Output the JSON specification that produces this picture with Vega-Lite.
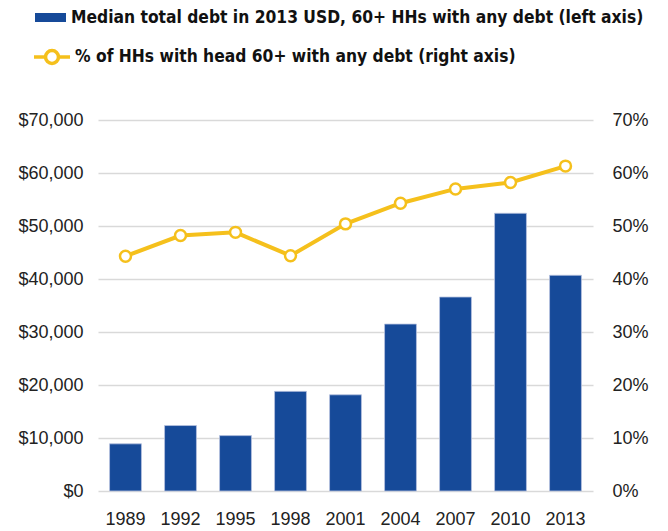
{
  "$schema": "https://vega.github.io/schema/vega-lite/v6.json",
  "width": 495,
  "height": 371,
  "autosize": {"type": "none"},
  "padding": {"left": 98, "top": 120, "right": 75, "bottom": 40},
  "background": "white",
  "config": {
    "view": {"stroke": null},
    "font": "Liberation Sans",
    "axis": {"labelFont": "Liberation Sans", "labelFontSize": 18, "labelColor": "#222222", "grid": false, "domain": false, "ticks": false, "title": null, "labelOverlap": false}
  },
  "data": {
    "values": [
      {"year": "1989", "debt": 8900, "pct": 0.443},
      {"year": "1992", "debt": 12350, "pct": 0.482},
      {"year": "1995", "debt": 10450, "pct": 0.488},
      {"year": "1998", "debt": 18800, "pct": 0.444},
      {"year": "2001", "debt": 18150, "pct": 0.504},
      {"year": "2004", "debt": 31500, "pct": 0.543},
      {"year": "2007", "debt": 36600, "pct": 0.570},
      {"year": "2010", "debt": 52400, "pct": 0.582},
      {"year": "2013", "debt": 40700, "pct": 0.613}
    ]
  },
  "encoding": {
    "x": {
      "field": "year", "type": "ordinal",
      "scale": {"paddingInner": 0.42, "paddingOuter": 0.21},
      "axis": {"labelAngle": 0, "labelPadding": 19}
    }
  },
  "layer": [
    {
      "mark": {"type": "bar", "stroke": "#b7c3e0", "strokeWidth": 0.8},
      "encoding": {
        "y": {
          "field": "debt", "type": "quantitative",
          "scale": {"domain": [0, 70000]},
          "axis": {"orient": "left", "format": "$,.0f", "values": [0,10000,20000,30000,40000,50000,60000,70000], "grid": true, "gridColor": "#d9d9d9", "gridWidth": 1.5, "labelPadding": 15}
        },
        "fill": {
          "datum": "Median total debt in 2013 USD, 60+ HHs with any debt (left axis)",
          "scale": {"range": ["#164a99"]},
          "legend": {
            "orient": "none", "legendX": -63, "legendY": -118, "title": null,
            "symbolType": "M-1,-0.29H1V0.29H-1Z", "symbolSize": 961, "symbolStrokeWidth": 0,
            "labelFont": "DejaVu Sans Condensed", "labelFontSize": 17.3, "labelFontWeight": "bold", "labelColor": "#111111", "labelOffset": 5, "labelLimit": 0
          }
        }
      }
    },
    {
      "mark": {"type": "line", "color": "#f5c01c", "strokeWidth": 4},
      "encoding": {
        "y": {
          "field": "pct", "type": "quantitative",
          "scale": {"domain": [0, 0.7]},
          "axis": {"orient": "right", "format": ".0%", "values": [0,0.1,0.2,0.3,0.4,0.5,0.6,0.7], "labelPadding": 19}
        },
        "stroke": {
          "datum": "% of HHs with head 60+ with any debt (right axis)",
          "scale": {"range": ["#f5c01c"]},
          "legend": {
            "orient": "none", "legendX": -66, "legendY": -83, "title": null,
            "symbolType": "M-1,0H-0.36M0.36,0H1M0.36,0A0.36,0.36 0 1 1 -0.36,0A0.36,0.36 0 1 1 0.36,0Z",
            "symbolSize": 1296, "symbolStrokeWidth": 3.5, "symbolFillColor": "white", "symbolStrokeColor": "#f5c01c",
            "labelFont": "DejaVu Sans Condensed", "labelFontSize": 17.3, "labelFontWeight": "bold", "labelColor": "#111111", "labelOffset": 3, "labelLimit": 0
          }
        }
      }
    },
    {
      "mark": {"type": "point", "filled": true, "fill": "white", "stroke": "#f5c01c", "strokeWidth": 2.5, "size": 120, "opacity": 1},
      "encoding": {
        "y": {"field": "pct", "type": "quantitative", "scale": {"domain": [0, 0.7]}, "axis": null}
      }
    }
  ],
  "resolve": {"scale": {"y": "independent"}, "legend": {"fill": "independent", "stroke": "independent"}}
}
